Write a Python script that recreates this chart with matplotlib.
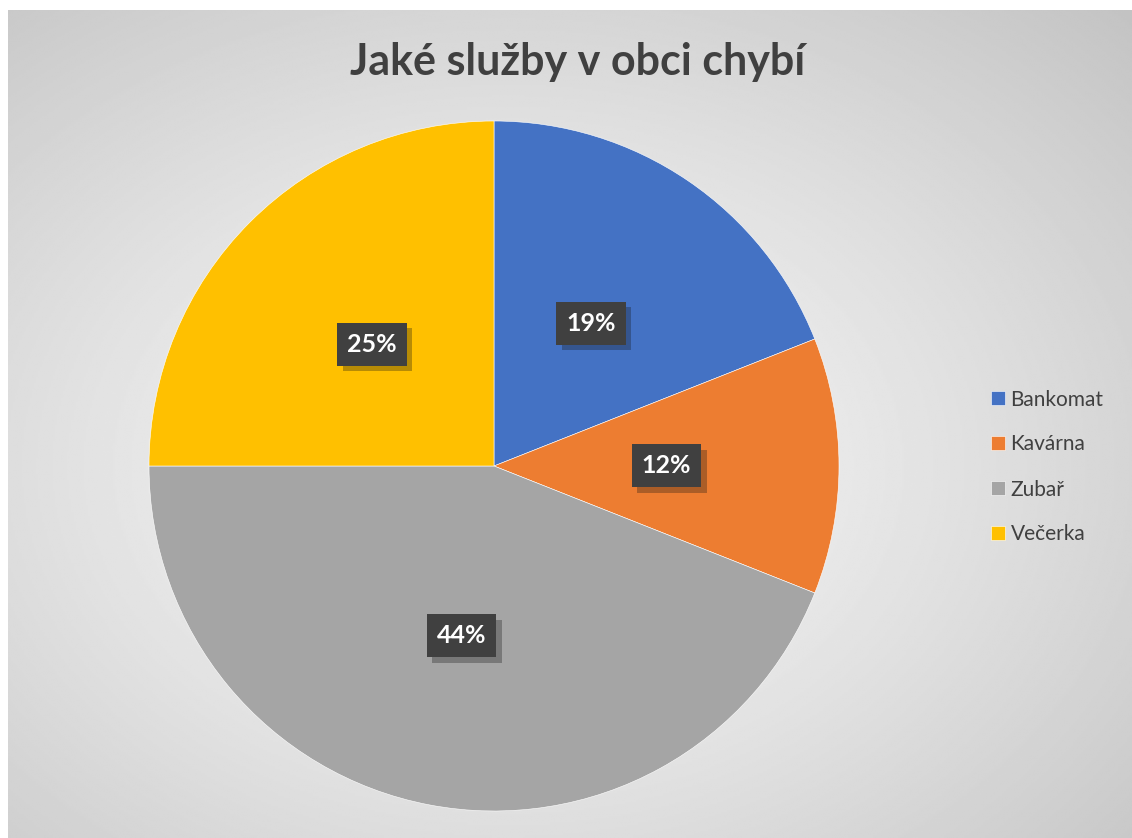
import numpy as np
import matplotlib.pyplot as plt
import matplotlib.patheffects as pe

TITLE = "Jaké služby v obci chybí"
LABELS = ["Bankomat", "Kavárna", "Zubař", "Večerka"]
SHARES = [19, 12, 44, 25]
COLORS = ["#4472C4", "#ED7D31", "#A5A5A5", "#FFC000"]

W, H = 1132, 838


def main():
    plt.rcParams["font.family"] = ["Lato", "DejaVu Sans"]
    fig = plt.figure(figsize=(W / 100, H / 100), dpi=100, facecolor="white")

    # radial gradient background of the chart area
    bg = fig.add_axes([8 / W, 0, (W - 8) / W, (H - 10) / H])
    bg.set_axis_off()
    yy, xx = np.mgrid[0:400, 0:540]
    cx, cy = 240, 220
    d = np.hypot((xx - cx) / 540, (yy - cy) / 400)
    d = d / d.max()
    shade = 0.975 - 0.21 * d ** 1.2
    bg.imshow(shade, cmap="gray", vmin=0, vmax=1, aspect="auto",
              interpolation="bilinear")

    # pie
    r, pcx, pcy = 345, 494, 466
    ax = fig.add_axes([(pcx - r) / W, (H - pcy - r) / H, 2 * r / W, 2 * r / H])
    wedges, texts, autotexts = ax.pie(
        SHARES, colors=COLORS, startangle=90, counterclock=False,
        autopct="%d%%", pctdistance=0.5, radius=1,
        wedgeprops=dict(edgecolor="white", linewidth=0.4),
        textprops=dict(color="white", fontsize=18, fontweight="bold"))
    for t in autotexts:
        t.set_bbox(dict(boxstyle="square,pad=0.4", facecolor="#404040",
                        edgecolor="none"))
        t.get_bbox_patch().set_path_effects(
            [pe.SimplePatchShadow(offset=(4, -4), alpha=0.3), pe.Normal()])
    ax.set_xlim(-1, 1)
    ax.set_ylim(-1, 1)
    ax.set_aspect("equal")

    fig.text(578 / W, 1 - 62 / H, TITLE, ha="center", va="center",
             fontsize=31, fontweight="bold", color="#404040")

    fig.legend(wedges, LABELS, loc="center left",
               bbox_to_anchor=(972 / W, 1 - 467 / H), frameon=False,
               fontsize=15, labelcolor="#404040", handlelength=0.7,
               handleheight=0.7, handletextpad=0.25, labelspacing=1.2)

    fig.savefig("out.png", dpi=100)


if __name__ == "__main__":
    main()
